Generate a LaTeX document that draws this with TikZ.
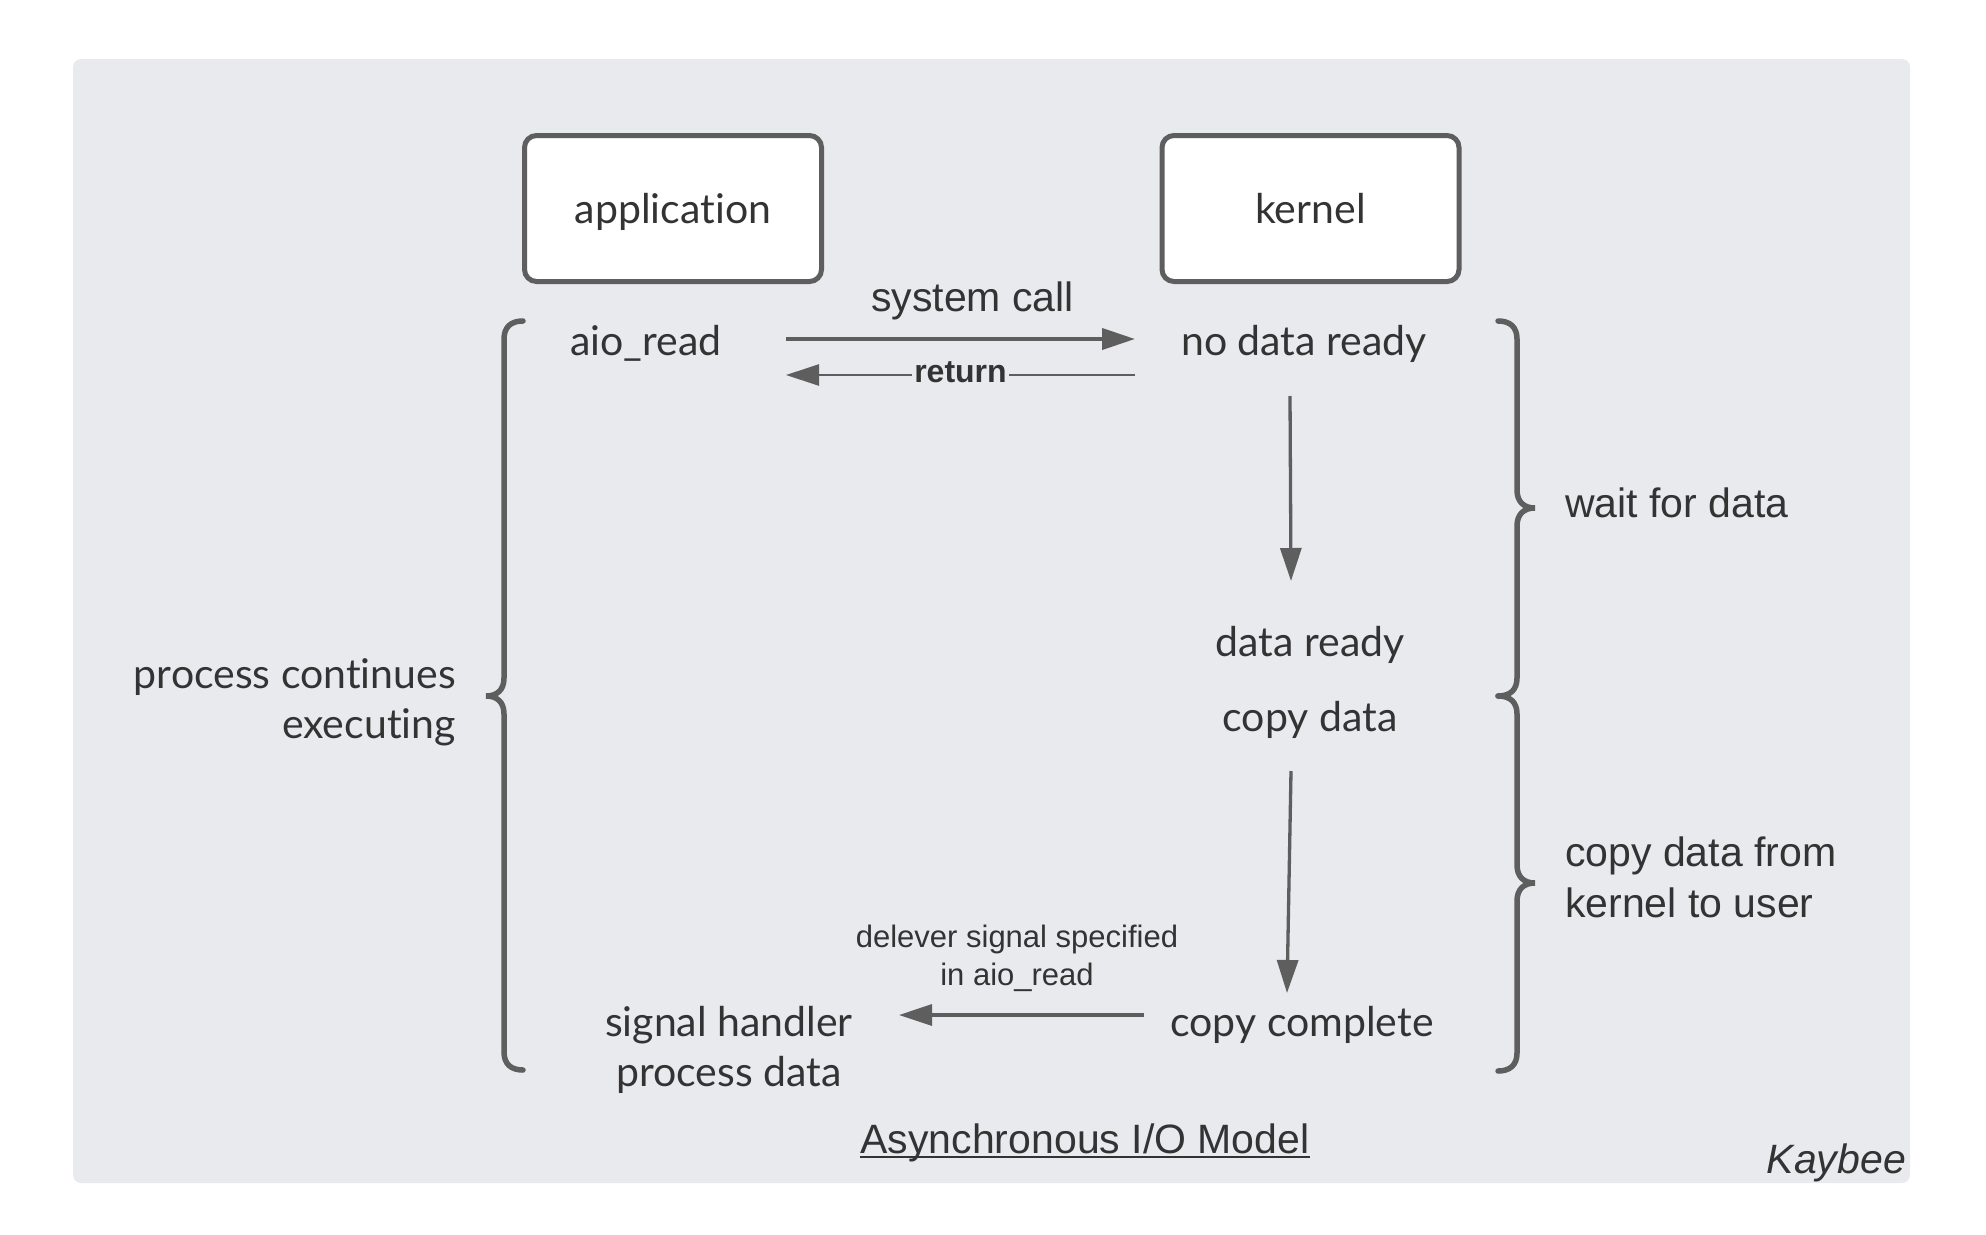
\documentclass[tikz,border=0pt]{standalone}
\usepackage{fontspec}
\setmainfont{Lato}[Ligatures=NoCommon]
\newfontfamily\arialfont{Liberation Sans}
\usetikzlibrary{arrows.meta}
\definecolor{bgfill}{HTML}{E9EAEE}
\definecolor{linegray}{HTML}{5E5E5E}
\definecolor{textgray}{HTML}{333333}
\tikzset{
	lato/.style={font=\fontsize{41}{50}\selectfont, text=textgray, inner sep=0pt},
	arial/.style={font=\arialfont\fontsize{41}{51}\selectfont, text=textgray, inner sep=0pt},
	small/.style={font=\arialfont\fontsize{31}{38}\selectfont, text=textgray, inner sep=0pt},
	box/.style={draw=linegray, line width=5pt, fill=white, rounded corners=12pt,
		minimum width=297pt, minimum height=146pt, text depth=0pt,
		font=\fontsize{41}{50}\selectfont, text=textgray},
	flow/.style={draw=linegray, line width=3.3pt, -{Triangle[length=33pt,width=21pt]}},
	brace/.style={draw=linegray, line width=5.5pt, line cap=round},
}
\begin{document}
\begin{tikzpicture}[x=1pt,y=-1pt]
	\useasboundingbox (0,0) rectangle (1986,1234);
	\fill[bgfill, rounded corners=8pt] (73,59) rectangle (1910,1183);

	\node[box] (app) at (673,208.5) {application};
	\node[box] (kern) at (1310.5,208.5) {kernel};

	\node[lato, anchor=base] (aio) at (646,355) {aio\_read};
	\node[lato, anchor=base] (nodata) at (1304,355) {no data ready};
	\node[lato, anchor=base] (ready) at (1310,656) {data ready};
	\node[lato, anchor=base] (copy) at (1310,731) {copy data};
	\node[lato, anchor=base] (done) at (1302,1036) {copy complete};
	\node[lato, anchor=base, align=center] (handler) at (729,1086) {signal handler\\process data};
	\node[lato, anchor=base east, align=right] (cont) at (456,738) {process continues\\executing};

	\node[arial, anchor=base] (syscall) at (972.5,311) {system call};
	\node[arial, anchor=base west] (wait) at (1565,517) {wait for data};
	\node[arial, anchor=base west, align=left] (touser) at (1565,917) {copy data from\\kernel to user};
	\node[small, anchor=base, align=center] (signal) at (1017,985) {delever signal specified\\in aio\_read};
	\node[arial, anchor=base] (title) at (1085,1153) {Asynchronous I/O Model};
	\node[arial, anchor=base east, font=\arialfont\itshape\fontsize{41}{51}\selectfont] (author) at (1906,1173) {Kaybee};
	\draw[textgray, line width=2.6pt] ([yshift=-4pt]title.base west) -- ([yshift=-4pt]title.base east);

	\coordinate (callA) at (786,339);
	\coordinate (callB) at (1135,339);
	\coordinate (retA) at (1135,375);
	\coordinate (retB) at (786,375);
	\coordinate (waitA) at (1290,396);
	\coordinate (waitB) at (1291,581);
	\coordinate (copyA) at (1291,771);
	\coordinate (copyB) at (1287,993);
	\coordinate (sigA) at (1144,1015);
	\coordinate (sigB) at (899,1015);

	\draw[flow, line width=4pt] (callA) -- (callB);
	\draw[flow, line width=2.7pt] (retA) -- node[fill=bgfill, inner xsep=2pt, inner ysep=0pt, text height=14pt, text depth=0pt,
		font=\arialfont\bfseries\fontsize{32}{38}\selectfont, text=textgray] (ret) {return} (retB);
	\draw[flow] (waitA) -- (waitB);
	\draw[flow] (copyA) -- (copyB);
	\draw[flow] (sigA) -- (sigB);

	\draw[brace] (523,321) .. controls (511,321) and (504,327) .. (504,339)
		-- (504,678) .. controls (504,690) and (497,696) .. (486,696)
		.. controls (497,696) and (504,702) .. (504,714)
		-- (504,1052) .. controls (504,1064) and (511,1070) .. (523,1070);
	\draw[brace] (1498,321) .. controls (1510,321) and (1517,327) .. (1517,339)
		-- (1517,490) .. controls (1517,502) and (1524,508) .. (1535,508)
		.. controls (1524,508) and (1517,514) .. (1517,526)
		-- (1517,678) .. controls (1517,690) and (1510,696) .. (1498,696);
	\draw[brace] (1498,696) .. controls (1510,696) and (1517,702) .. (1517,714)
		-- (1517,865) .. controls (1517,877) and (1524,883) .. (1535,883)
		.. controls (1524,883) and (1517,889) .. (1517,901)
		-- (1517,1053) .. controls (1517,1065) and (1510,1071) .. (1498,1071);
\end{tikzpicture}
\end{document}
